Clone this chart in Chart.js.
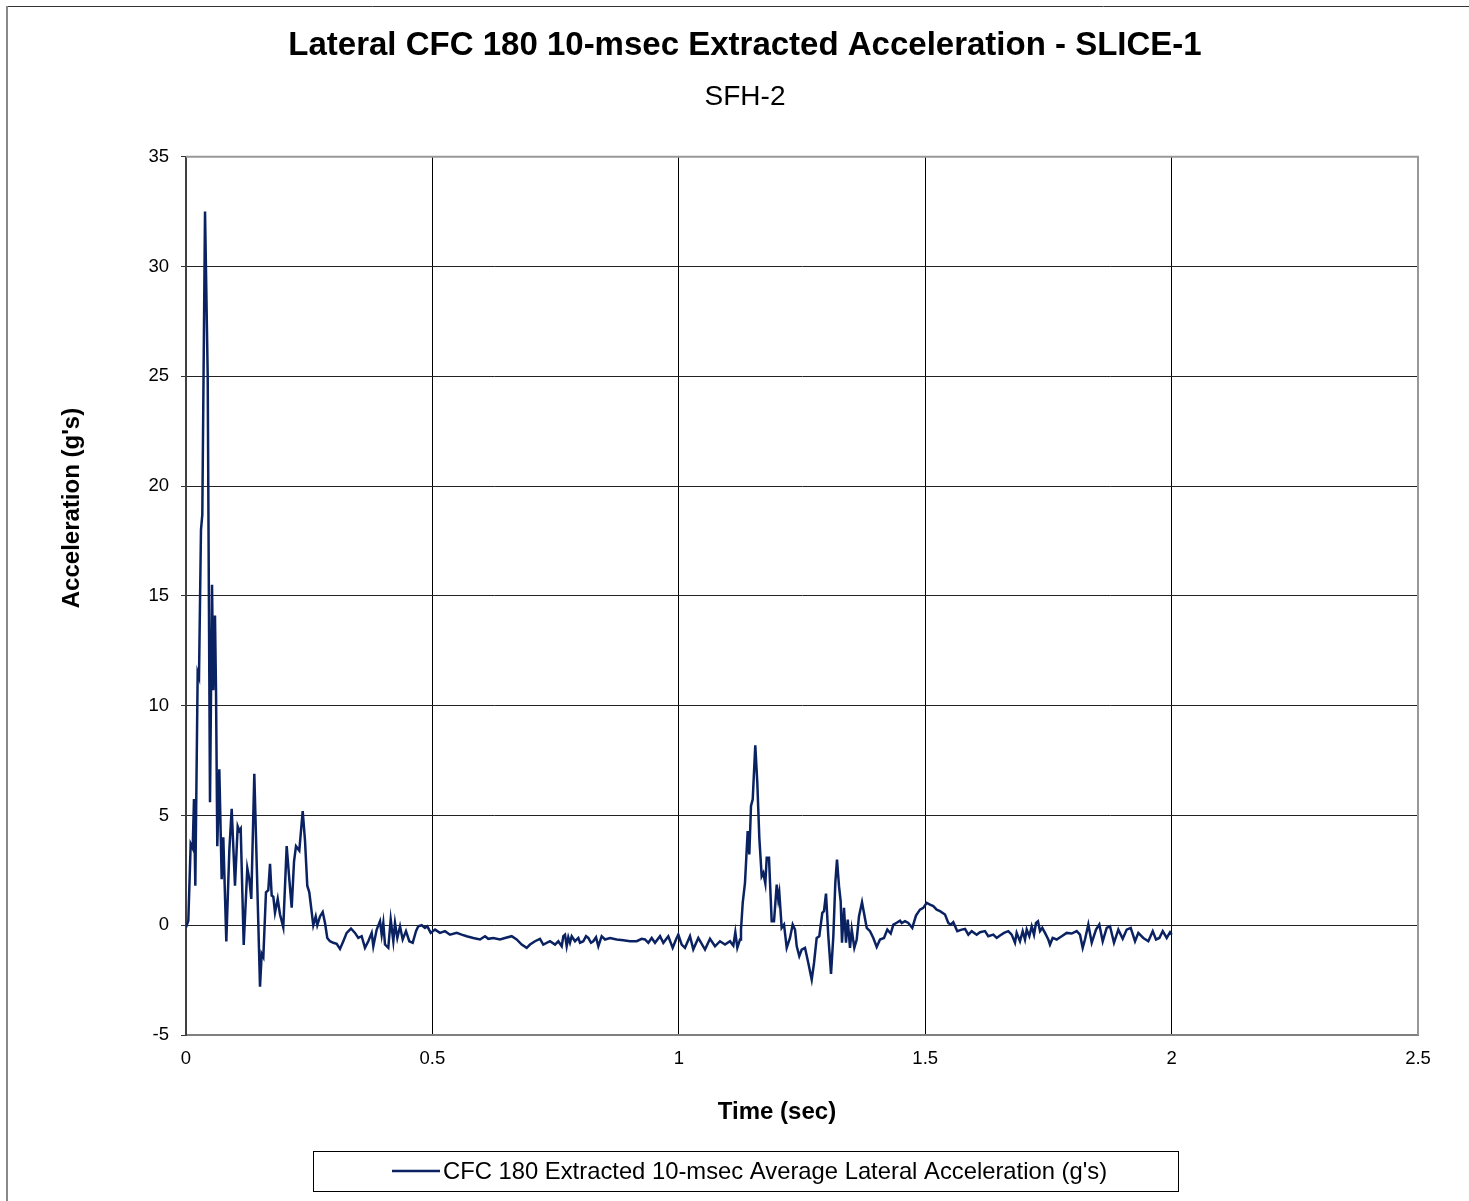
<!DOCTYPE html>
<html>
<head>
<meta charset="utf-8">
<script src="https://cdn.jsdelivr.net/npm/chart.js@4.4.1/dist/chart.umd.min.js"></script>
<style>
  body { margin: 0; background: #fff; }
  canvas { display: block; }
</style>
</head>
<body>
<canvas id="accel-chart" width="1469" height="1201"></canvas>
<script>
var chartTitle = 'Lateral CFC 180 10-msec Extracted Acceleration - SLICE-1';
var chartSubtitle = 'SFH-2';
var seriesLabel = "CFC 180 Extracted 10-msec Average Lateral Acceleration (g's)";
var xAxisTitle = 'Time (sec)';
var yAxisTitle = "Acceleration (g's)";

var xTicks = [0, 0.5, 1, 1.5, 2, 2.5];
var yTicks = [-5, 0, 5, 10, 15, 20, 25, 30, 35];

// time (sec)
var times = [
  0, 0.0047, 0.0095, 0.0136, 0.0162, 0.0189, 0.0237, 0.0264, 0.0304, 0.0331,
  0.0386, 0.0440, 0.0487, 0.0528, 0.0554, 0.0588, 0.0609, 0.0635, 0.0676, 0.0724,
  0.0757, 0.0818, 0.0879, 0.0927, 0.0994, 0.1049, 0.1082, 0.1110, 0.1171, 0.1244,
  0.1285, 0.1325, 0.1386, 0.1502, 0.1536, 0.1569, 0.1623, 0.1670, 0.1705, 0.1739,
  0.1772, 0.1806, 0.1861, 0.1907, 0.1974, 0.2043, 0.2096, 0.2145, 0.2192, 0.2232,
  0.2299, 0.2368, 0.2415, 0.2461, 0.2502, 0.2583, 0.2632, 0.2664, 0.2719, 0.2774,
  0.2821, 0.2867, 0.2922, 0.2989, 0.3058, 0.3125, 0.3192, 0.3261, 0.3348, 0.3429,
  0.3496, 0.3565, 0.3632, 0.3699, 0.3768, 0.3801, 0.3870, 0.3937, 0.3971, 0.4004,
  0.4038, 0.4105, 0.4154, 0.4207, 0.4241, 0.4288, 0.4343, 0.4397, 0.4464, 0.4531,
  0.4600, 0.4667, 0.4714, 0.4783, 0.4850, 0.4897, 0.4966, 0.5053, 0.5154, 0.5256,
  0.5357, 0.5493, 0.5594, 0.5696, 0.5830, 0.5966, 0.6067, 0.6134, 0.6236, 0.6372,
  0.6473, 0.6609, 0.6710, 0.6812, 0.6913, 0.6981, 0.7082, 0.7183, 0.7250, 0.7386,
  0.7488, 0.7555, 0.7624, 0.7657, 0.7691, 0.7725, 0.7758, 0.7792, 0.7827, 0.7894,
  0.7961, 0.7995, 0.8062, 0.8117, 0.8164, 0.8218, 0.8265, 0.8320, 0.8367, 0.8435,
  0.8502, 0.8604, 0.8740, 0.8874, 0.9010, 0.9146, 0.9247, 0.9314, 0.9381, 0.9450,
  0.9517, 0.9619, 0.9686, 0.9787, 0.9876, 0.9943, 0.9990, 1.0059, 1.0126, 1.0227,
  1.0294, 1.0396, 1.0532, 1.0633, 1.0735, 1.0836, 1.0938, 1.1039, 1.1106, 1.1147,
  1.1188, 1.1242, 1.1262, 1.1297, 1.1343, 1.1398, 1.1431, 1.1465, 1.1500, 1.1552,
  1.1593, 1.1634, 1.1682, 1.1715, 1.1756, 1.1784, 1.1830, 1.1885, 1.1932, 1.1987,
  1.2019, 1.2040, 1.2088, 1.2135, 1.2190, 1.2256, 1.2311, 1.2358, 1.2393, 1.2445,
  1.2494, 1.2561, 1.2628, 1.2697, 1.2744, 1.2798, 1.2851, 1.2912, 1.2946, 1.2987,
  1.3034, 1.3089, 1.3136, 1.3176, 1.3210, 1.3251, 1.3285, 1.3312, 1.3352, 1.3393,
  1.3428, 1.3474, 1.3509, 1.3562, 1.3610, 1.3657, 1.3718, 1.3758, 1.3813, 1.3880,
  1.3947, 1.4016, 1.4083, 1.4164, 1.4231, 1.4300, 1.4354, 1.4422, 1.4489, 1.4523,
  1.4590, 1.4657, 1.4738, 1.4813, 1.4894, 1.4961, 1.5030, 1.5097, 1.5164, 1.5233,
  1.5300, 1.5402, 1.5469, 1.5517, 1.5570, 1.5651, 1.5741, 1.5808, 1.5875, 1.5944,
  1.6045, 1.6112, 1.6213, 1.6280, 1.6382, 1.6451, 1.6518, 1.6599, 1.6686, 1.6755,
  1.6822, 1.6856, 1.6923, 1.6978, 1.7025, 1.7060, 1.7113, 1.7161, 1.7208, 1.7248,
  1.7289, 1.7330, 1.7376, 1.7431, 1.7498, 1.7532, 1.7587, 1.7668, 1.7770, 1.7871,
  1.7973, 1.8074, 1.8141, 1.8196, 1.8242, 1.8310, 1.8379, 1.8466, 1.8533, 1.8602,
  1.8683, 1.8750, 1.8831, 1.8919, 1.9008, 1.9089, 1.9170, 1.9258, 1.9325, 1.9426,
  1.9528, 1.9617, 1.9684, 1.9751, 1.9820, 1.9901, 1.9968, 2.0002
];

// lateral acceleration (g's)
var accel = [
  -0.1, 0.2, 3.7, 3.5, 5.75, 1.8, 11.5, 11.3, 18.0, 18.7,
  32.5, 25.1, 5.6, 15.5, 10.7, 14.1, 10.7, 3.6, 7.1, 2.1,
  4.0, -0.74, 3.4, 5.3, 1.8, 4.5, 4.3, 4.4, -0.9, 2.6,
  2.1, 1.2, 6.9, -2.8, -1.3, -1.45, 1.5, 1.6, 2.8, 1.35,
  1.3, 0.57, 1.2, 0.5, -0.1, 3.6, 2.1, 0.8, 2.9, 3.6,
  3.4, 5.2, 3.85, 1.8, 1.5, 0.0, 0.4, 0.0, 0.4, 0.6,
  0.1, -0.58, -0.73, -0.8, -0.85, -1.08, -0.73, -0.35, -0.15, -0.35,
  -0.58, -0.5, -1.03, -0.73, -0.35, -0.96, -0.2, 0.18, -0.43, 0.1,
  -0.88, -1.03, 0.26, -0.73, 0.1, -0.58, -0.05, -0.65, -0.27, -0.73,
  -0.8, -0.27, -0.05, 0.0, -0.12, -0.05, -0.35, -0.2, -0.35, -0.27,
  -0.43, -0.35, -0.43, -0.5, -0.58, -0.65, -0.5, -0.62, -0.58, -0.65,
  -0.58, -0.5, -0.65, -0.88, -1.03, -0.88, -0.73, -0.62, -0.88, -0.73,
  -0.88, -0.73, -0.96, -0.5, -0.43, -0.95, -0.55, -0.8, -0.5, -0.73,
  -0.58, -0.8, -0.73, -0.5, -0.58, -0.8, -0.73, -0.55, -0.96, -0.5,
  -0.65, -0.58, -0.65, -0.68, -0.73, -0.73, -0.62, -0.65, -0.8, -0.58,
  -0.8, -0.5, -0.8, -0.5, -1.03, -0.65, -0.43, -0.88, -1.03, -0.5,
  -1.1, -0.58, -1.11, -0.62, -0.96, -0.73, -0.88, -0.73, -0.93, -0.32,
  -1.03, -0.65, -0.2, 1.02, 1.93, 4.29, 3.22, 5.43, 5.73, 8.19,
  6.5, 3.98, 2.23, 2.38, 1.9, 3.07, 3.07, 0.18, 0.18, 1.85,
  1.17, 1.47, -0.12, 0.03, -1.03, -0.58, 0.03, -0.2, -0.96, -1.41,
  -1.11, -1.03, -1.72, -2.48, -1.72, -0.58, -0.5, 0.56, 0.64, 1.44,
  -0.5, -2.22, -0.5, 1.93, 2.99, 1.78, 1.09, -0.8, 0.79, -0.8,
  0.26, -1.03, -0.2, -1.03, -0.65, 0.41, 1.05, 0.56, -0.12, -0.27,
  -0.58, -0.99, -0.65, -0.58, -0.2, -0.38, 0.03, 0.11, 0.21, 0.1,
  0.18, 0.1, -0.12, 0.44, 0.71, 0.79, 1.02, 0.94, 0.87, 0.71,
  0.64, 0.49, 0.1, 0.03, 0.14, -0.27, -0.2, -0.17, -0.43, -0.27,
  -0.43, -0.32, -0.27, -0.5, -0.43, -0.58, -0.47, -0.35, -0.27, -0.43,
  -0.8, -0.35, -0.73, -0.27, -0.65, -0.2, -0.5, -0.05, -0.43, 0.1,
  0.18, -0.27, -0.12, -0.35, -0.65, -0.88, -0.58, -0.65, -0.5, -0.35,
  -0.38, -0.27, -0.43, -1.03, -0.65, 0.03, -0.8, -0.2, 0.03, -0.73,
  -0.12, -0.05, -0.8, -0.2, -0.62, -0.2, -0.12, -0.73, -0.35, -0.58,
  -0.73, -0.27, -0.65, -0.58, -0.27, -0.58, -0.32, -0.43
];

var fontFamily = "'Liberation Sans', Arial, sans-serif";
var lineColor = '#0a2262';

// page frame, plot border on top/right, axis titles and the boxed legend
var framePlugin = {
  id: 'frame',
  beforeDraw: function(chart) {
    var ctx = chart.ctx;
    ctx.save();
    ctx.fillStyle = '#fff';
    ctx.fillRect(0, 0, chart.width, chart.height);
    ctx.strokeStyle = '#333';
    ctx.lineWidth = 1;
    ctx.beginPath();
    ctx.moveTo(7, 6.5);
    ctx.lineTo(chart.width, 6.5);
    ctx.stroke();
    ctx.strokeStyle = '#888';
    ctx.lineWidth = 2;
    ctx.beginPath();
    ctx.moveTo(7, 6);
    ctx.lineTo(7, chart.height);
    ctx.stroke();
    ctx.restore();
  },
  afterDraw: function(chart) {
    var ctx = chart.ctx;
    var a = chart.chartArea;
    ctx.save();
    ctx.strokeStyle = '#999';
    ctx.lineWidth = 2;
    ctx.beginPath();
    ctx.moveTo(a.left, a.top);
    ctx.lineTo(a.right, a.top);
    ctx.lineTo(a.right, a.bottom);
    ctx.stroke();

    // axis titles
    ctx.fillStyle = '#000';
    ctx.font = 'bold 24px ' + fontFamily;
    ctx.textAlign = 'center';
    ctx.textBaseline = 'middle';
    ctx.fillText(xAxisTitle, 777, 1112);
    ctx.save();
    ctx.translate(72, 508);
    ctx.rotate(-Math.PI / 2);
    ctx.fillText(yAxisTitle, 0, 0);
    ctx.restore();

    // legend
    var ds = chart.data.datasets[0];
    var cy = 1171;
    ctx.strokeStyle = '#000';
    ctx.lineWidth = 1;
    ctx.strokeRect(313.5, 1151.5, 865, 40);
    ctx.strokeStyle = ds.borderColor;
    ctx.lineWidth = 2.5;
    ctx.beginPath();
    ctx.moveTo(392, cy);
    ctx.lineTo(440, cy);
    ctx.stroke();
    ctx.fillStyle = '#000';
    ctx.font = '23.8px ' + fontFamily;
    ctx.textBaseline = 'middle';
    ctx.textAlign = 'left';
    ctx.fillText(ds.label, 443, cy + 1);
    ctx.restore();
  }
};

var ctx = document.getElementById('accel-chart').getContext('2d');
var accelChart = new Chart(ctx, {
  type: 'scatter',
  data: {
    datasets: [{
      label: seriesLabel,
      data: times.map(function(t, i) { return { x: t, y: accel[i] }; }),
      showLine: true,
      borderColor: lineColor,
      backgroundColor: lineColor,
      borderWidth: 2.5,
      pointRadius: 0,
      tension: 0
    }]
  },
  options: {
    responsive: false,
    animation: false,
    layout: { padding: { left: 72, right: 51, top: 0, bottom: 50 } },
    plugins: {
      legend: { display: false },
      tooltip: { enabled: false },
      title: {
        display: true,
        text: chartTitle,
        color: '#000',
        font: { family: fontFamily, size: 33, weight: 'bold' },
        padding: { top: 26, bottom: 0 }
      },
      subtitle: {
        display: true,
        text: chartSubtitle,
        color: '#000',
        font: { family: fontFamily, size: 28, weight: 'normal' },
        padding: { top: 14.5, bottom: 43 }
      }
    },
    scales: {
      x: {
        type: 'linear',
        min: 0,
        max: 2.5,
        afterBuildTicks: function(scale) {
          scale.ticks = xTicks.map(function(v) { return { value: v }; });
        },
        afterFit: function(scale) { scale.height = 116; },
        grid: { color: '#000', lineWidth: 1, drawTicks: false },
        border: { display: true, color: '#808080', width: 2 },
        ticks: {
          color: '#000',
          font: { family: fontFamily, size: 18.5 },
          padding: 13,
          maxRotation: 0,
          autoSkip: false,
          callback: function(v) { return String(v); }
        }
      },
      y: {
        type: 'linear',
        min: -5,
        max: 35,
        afterBuildTicks: function(scale) {
          scale.ticks = yTicks.map(function(v) { return { value: v }; });
        },
        afterFit: function(scale) { scale.width = 114; },
        grid: { color: '#222', lineWidth: 1, drawTicks: true, tickLength: 5, tickColor: '#333' },
        border: { display: true, color: '#404040', width: 2 },
        ticks: {
          color: '#000',
          font: { family: fontFamily, size: 18.5 },
          padding: 12,
          autoSkip: false,
          callback: function(v) { return String(v); }
        }
      }
    }
  },
  plugins: [framePlugin]
});
</script>
</body>
</html>
